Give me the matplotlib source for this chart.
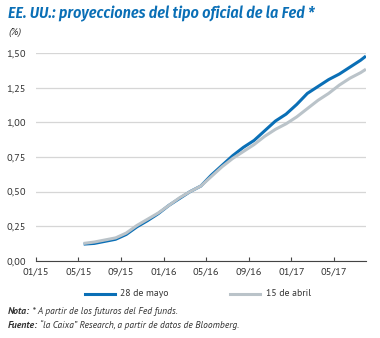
import matplotlib
matplotlib.use("Agg")
import matplotlib.pyplot as plt

# meses desde 01/15
meses = [4.5, 5.5, 6.5, 7.5, 8.5, 9.5, 10.5, 11.5, 12.5, 13.5, 14.5, 15.5, 16.5, 17.5,
         18.5, 19.5, 20.5, 21.5, 22.5, 23.5, 24.5, 25.5, 26.5, 27.5, 28.5, 29.5, 30.5, 31.0]
mayo_28 = [0.12, 0.125, 0.14, 0.155, 0.19, 0.245, 0.29, 0.34, 0.40, 0.45, 0.50, 0.54, 0.62, 0.69,
           0.76, 0.82, 0.87, 0.94, 1.01, 1.06, 1.13, 1.21, 1.26, 1.31, 1.35, 1.40, 1.45, 1.48]
abril_15 = [0.125, 0.135, 0.15, 0.165, 0.20, 0.255, 0.30, 0.345, 0.40, 0.455, 0.50, 0.54, 0.61, 0.68,
            0.74, 0.79, 0.84, 0.90, 0.95, 0.99, 1.04, 1.10, 1.16, 1.21, 1.27, 1.32, 1.36, 1.385]
tick_pos = [0, 4, 8, 12, 16, 20, 24, 28]
tick_lab = ["01/15", "05/15", "09/15", "01/16", "05/16", "09/16", "01/17", "05/17"]
y_ticks = [0, 0.25, 0.5, 0.75, 1.0, 1.25, 1.5]

plt.rcParams["font.family"] = ["PT Sans", "DejaVu Sans"]

azul = "#0a6fb6"
gris = "#bac3c9"
txt = "#333333"

fig = plt.figure(figsize=(3.8, 3.38), dpi=100)
ax = fig.add_axes([0.094, 0.2287, 0.869, 0.6136])

ax.plot(meses, mayo_28, color=azul, lw=2.2, solid_capstyle="butt")
ax.plot(meses, abril_15, color=gris, lw=2.2, solid_capstyle="butt")

ax.set_xlim(0, 31)
ax.set_ylim(0, 1.5)
ax.set_yticks(y_ticks)
ax.set_yticklabels([f"{v:.2f}".replace(".", ",") for v in y_ticks])
ax.set_xticks(tick_pos)
ax.set_xticklabels(tick_lab)
ax.yaxis.grid(True, color="#d6d6d6", lw=0.9)
ax.set_axisbelow(True)
for s in ["left", "right", "top"]:
    ax.spines[s].set_visible(False)
ax.spines["bottom"].set_color("#444444")
ax.spines["bottom"].set_linewidth(0.8)
ax.tick_params(axis="y", length=0, pad=7, labelsize=7.5, labelcolor=txt)
ax.tick_params(axis="x", direction="in", length=3, color="#444444", pad=5, labelsize=7.5, labelcolor=txt)

fig.text(0.021, 0.958, "EE. UU.: proyecciones del tipo oficial de la Fed *", color=azul,
         fontsize=11.5, fontweight="semibold", fontstyle="italic", va="center",
         family=["Fira Sans Condensed", "DejaVu Sans"])
fig.text(0.021, 0.903, "(%)", color=txt, fontsize=7.5, fontstyle="italic", va="center")

# leyenda
fig.add_artist(plt.Line2D([85 / 380, 115 / 380], [1 - 294 / 338] * 2, color=azul, lw=2.2))
fig.text(120 / 380, 1 - 294 / 338, "28 de mayo", fontsize=7, color=txt, va="center")
fig.add_artist(plt.Line2D([230 / 380, 260 / 380], [1 - 294 / 338] * 2, color=gris, lw=2.2))
fig.text(266 / 380, 1 - 294 / 338, "15 de abril", fontsize=7, color=txt, va="center")

# notas
n1 = fig.text(0.021, 1 - 311 / 338, "Nota:", fontsize=7, color=txt, fontweight="bold",
              fontstyle="italic", va="center")
n2 = fig.text(0.021, 1 - 325 / 338, "Fuente:", fontsize=7, color=txt, fontweight="bold",
              fontstyle="italic", va="center")
fig.canvas.draw()
r = fig.canvas.get_renderer()
for t, s in [(n1, " * A partir de los futuros del Fed funds."),
             (n2, " \u201cla Caixa\u201d Research, a partir de datos de Bloomberg.")]:
    bb = t.get_window_extent(r)
    fig.text(bb.x1 / fig.bbox.width, t.get_position()[1], s, fontsize=6.8, color=txt,
             fontstyle="italic", va="center")

fig.savefig("out.png", dpi=100)
